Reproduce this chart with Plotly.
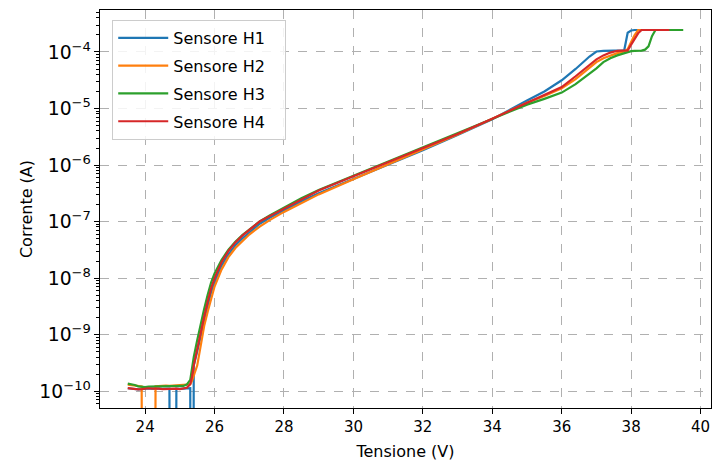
import plotly.graph_objects as go

# Voltage grid (V)
tensione = [23.5, 23.6, 23.7, 23.8, 23.9, 24.0, 24.1, 24.2, 24.3, 24.4, 24.5, 24.6, 24.7, 24.8,
            24.9, 25.0, 25.1, 25.2, 25.3, 25.35, 25.4, 25.5, 25.6, 25.7, 25.8, 25.9, 26.0, 26.2,
            26.4, 26.6, 26.8, 27.0, 27.3, 27.6, 28.0, 28.5, 29.0, 30.0, 31.0, 32.0, 33.0, 34.0,
            35.0, 35.5, 36.0, 36.4, 36.8, 37.0, 37.2, 37.4, 37.6, 37.8, 37.9, 38.0, 38.1, 38.2,
            38.3, 38.4, 38.5, 38.6, 38.7, 39.1, 39.5]

# Currents (A); 0.0 = reading at zero, None = not measured
corrente_h1 = [1.12e-10, 1.10e-10, 1.09e-10, 1.07e-10, 1.08e-10, 1.10e-10, 1.11e-10, 1.10e-10, 1.11e-10,
               1.10e-10, 1.09e-10, 1.10e-10, 1.10e-10, 0.0, 1.10e-10, 1.09e-10, 1.11e-10, 1.13e-10,
               1.12e-10, 0.0, 2.82e-10, 5.01e-10, 1.0e-9, 1.78e-9, 3.16e-9, 5.62e-9, 8.32e-9, 1.66e-8,
               2.63e-8, 3.80e-8, 5.01e-8, 6.46e-8, 9.12e-8, 1.175e-7, 1.585e-7, 2.29e-7, 3.16e-7,
               5.62e-7, 1.0e-6, 1.82e-6, 3.39e-6, 6.46e-6, 1.38e-5, 2.0e-5, 3.16e-5, 5.01e-5, 8.32e-5,
               1.02e-4, 1.05e-4, 1.05e-4, 1.05e-4, 1.07e-4, 2.19e-4, 2.40e-4, 2.45e-4, 2.45e-4,
               None, None, None, None, None, None, None]
corrente_h2 = [1.30e-10, 1.28e-10, 1.26e-10, 1.23e-10, 1.21e-10, 0.0, 0.0, 0.0, 1.22e-10,
               1.24e-10, 1.25e-10, 1.25e-10, 1.24e-10, 1.25e-10, 1.26e-10, 1.26e-10, 1.28e-10, 1.30e-10,
               1.32e-10, 1.51e-10, 1.91e-10, 2.82e-10, 6.31e-10, 1.41e-9, 2.51e-9, 4.47e-9, 7.08e-9, 1.41e-8,
               2.34e-8, 3.39e-8, 4.57e-8, 5.89e-8, 8.13e-8, 1.07e-7, 1.48e-7, 2.14e-7, 3.02e-7,
               5.62e-7, 1.02e-6, 1.86e-6, 3.47e-6, 6.61e-6, 1.26e-5, 1.66e-5, 2.29e-5, 3.31e-5, 5.37e-5,
               6.61e-5, 7.76e-5, 8.71e-5, 9.55e-5, 1.02e-4, 1.12e-4, 1.51e-4, 2.0e-4, 2.45e-4,
               2.45e-4, None, None, None, None, None, None]
corrente_h3 = [1.35e-10, 1.32e-10, 1.28e-10, 1.21e-10, 1.18e-10, 1.17e-10, 1.20e-10, 1.20e-10, 1.22e-10,
               1.22e-10, 1.21e-10, 1.21e-10, 1.22e-10, 1.22e-10, 1.22e-10, 1.21e-10, 1.23e-10, 1.30e-10,
               1.58e-10, 2.51e-10, 3.98e-10, 7.94e-10, 1.58e-9, 2.82e-9, 5.01e-9, 8.32e-9, 1.20e-8, 2.09e-8,
               3.16e-8, 4.37e-8, 5.75e-8, 7.24e-8, 1.0e-7, 1.29e-7, 1.78e-7, 2.57e-7, 3.63e-7,
               6.46e-7, 1.15e-6, 2.04e-6, 3.63e-6, 6.46e-6, 1.17e-5, 1.48e-5, 1.91e-5, 2.69e-5, 4.07e-5,
               5.13e-5, 6.61e-5, 7.76e-5, 8.71e-5, 9.55e-5, 1.0e-4, 1.035e-4, 1.05e-4, 1.05e-4,
               1.06e-4, 1.10e-4, 1.26e-4, 1.91e-4, 2.45e-4, 2.45e-4, 2.45e-4]
corrente_h4 = [1.13e-10, 1.11e-10, 1.08e-10, 1.07e-10, 1.08e-10, 1.10e-10, 1.12e-10, 1.10e-10, 1.11e-10,
               1.10e-10, 1.08e-10, 1.09e-10, 1.10e-10, 1.11e-10, 1.10e-10, 1.08e-10, 1.11e-10, 1.14e-10,
               1.32e-10, 1.78e-10, 2.82e-10, 5.62e-10, 1.12e-9, 2.09e-9, 3.80e-9, 6.61e-9, 1.0e-8, 1.91e-8,
               3.02e-8, 4.27e-8, 5.62e-8, 7.08e-8, 1.0e-7, 1.26e-7, 1.70e-7, 2.51e-7, 3.55e-7,
               6.31e-7, 1.12e-6, 2.0e-6, 3.55e-6, 6.61e-6, 1.26e-5, 1.70e-5, 2.40e-5, 3.72e-5, 6.03e-5,
               7.41e-5, 8.71e-5, 9.77e-5, 1.05e-4, 1.05e-4, 1.07e-4, 1.35e-4, 1.70e-4, 2.14e-4,
               2.45e-4, 2.45e-4, 2.45e-4, 2.45e-4, 2.45e-4, 2.45e-4, None]

nomi = ["Sensore H1", "Sensore H2", "Sensore H3", "Sensore H4"]
colori = ["#1f77b4", "#ff7f0e", "#2ca02c", "#d62728"]
serie = [corrente_h1, corrente_h2, corrente_h3, corrente_h4]

x_ticks = [24, 26, 28, 30, 32, 34, 36, 38, 40]
y_decadi = [-11, -10, -9, -8, -7, -6, -5, -4, -3]

FONT = "DejaVu Sans"
Y_RANGE = [-10.3, -3.257]

fig = go.Figure()
for nome, colore, valori in zip(nomi, colori, serie):
    xs, ys = [], []
    for v, c in zip(tensione, valori):
        if c is None:
            continue
        xs.append(v)
        # zero readings clipped far below the visible range, like a log axis clip
        ys.append(c if c > 0 else 1e-30)
    # trailing non-breaking spaces widen the legend box to fit the longer line sample
    fig.add_trace(go.Scatter(x=xs, y=ys, mode="lines", name=nome + "\u00a0" * 3, legendgroup=nome,
                             line=dict(color=colore, width=2.2)))

# invisible trace that activates the overlaid axis carrying the minor ticks
fig.add_trace(go.Scatter(x=[tensione[0]], y=[corrente_h4[0]], yaxis="y2", mode="markers",
                         marker=dict(opacity=0), showlegend=False, hoverinfo="skip"))

minor_vals = [m * 10.0 ** d for d in y_decadi for m in range(2, 10)]

axis_common = dict(
    showline=True, linecolor="black", linewidth=1.2, mirror=True,
    ticks="outside", ticklen=5, tickwidth=1.2, tickcolor="black",
    showgrid=True, gridcolor="#b0b0b0", griddash="dash", gridwidth=1,
    zeroline=False,
    tickfont=dict(family=FONT, size=15, color="black"),
)

fig.update_xaxes(
    range=[22.7, 40.3], tickvals=x_ticks, ticktext=[str(t) for t in x_ticks],
    title=dict(text="Tensione (V)", font=dict(family=FONT, size=16, color="black"), standoff=10),
    **axis_common,
)
fig.update_layout(
    yaxis=dict(
        type="log", range=Y_RANGE, tickmode="linear", tick0=0, dtick=1,
        exponentformat="power",
        minor=dict(ticks="outside", ticklen=3, tickwidth=1, tickcolor="black",
                   dtick="D1", showgrid=False),
        title=dict(text="Corrente (A)", font=dict(family=FONT, size=16, color="black"), standoff=2),
        **axis_common,
    ),
    yaxis2=dict(type="log", range=Y_RANGE, overlaying="y", side="left", anchor="x",
                tickmode="array", tickvals=minor_vals, ticktext=[""] * len(minor_vals),
                ticks="outside", ticklen=3, tickwidth=1, tickcolor="black",
                showticklabels=True, showgrid=False, zeroline=False, showline=False),
)

fig.update_layout(
    width=713, height=463,
    margin=dict(l=100, r=2, t=10, b=55),
    paper_bgcolor="white", plot_bgcolor="white",
    font=dict(family=FONT, size=15, color="black"),
    legend=dict(x=0.02, y=0.975, xanchor="left", yanchor="top",
                bgcolor="rgba(255,255,255,0.85)", bordercolor="#cccccc", borderwidth=1,
                font=dict(family=FONT, size=16, color="black"),
                tracegroupgap=4, itemwidth=50),
    showlegend=True,
)

fig.write_html("out.html")
